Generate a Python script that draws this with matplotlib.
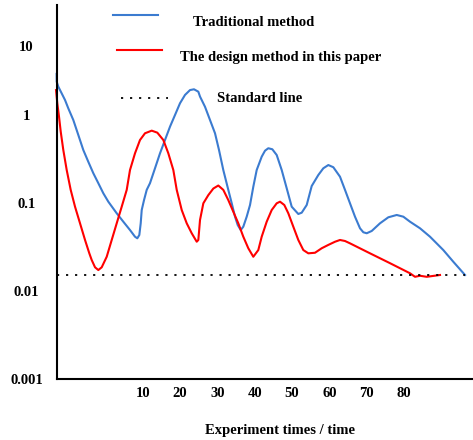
import matplotlib
matplotlib.use('Agg')
import matplotlib.pyplot as plt
from matplotlib.lines import Line2D

plt.rcParams['font.family'] = 'Liberation Serif'
plt.rcParams['font.weight'] = 'bold'

# values (error value vs experiment times, log scale)
trad_x = [-13.1, -13.08, -12.65, -11.74, -10.85, -9.97, -8.63, -7.29, -5.95, -4.61, -3.27,
          -1.93, -0.59, 0.75, 3.00, 4.77, 6.56, 7.90, 8.52, 9.06, 9.43, 9.70, 10.32, 11.04,
          11.92, 13.26, 14.60, 15.94, 17.28, 18.62, 19.96, 21.30, 22.64, 23.71, 24.87, 25.32,
          26.66, 28.00, 29.34, 30.41, 31.56, 32.90, 33.82, 34.70, 35.42, 36.23, 36.92, 37.83,
          38.72, 39.60, 40.51, 41.85, 42.74, 43.62, 44.69, 45.87, 47.21, 48.55, 49.89, 51.66,
          52.57, 53.91, 55.25, 57.02, 58.36, 59.70, 61.04, 62.83, 64.17, 65.51, 66.85, 68.19,
          69.08, 69.99, 71.33, 73.55, 75.78, 78.03, 79.80, 81.59, 84.27, 86.95, 90.51, 93.19,
          96.33]
trad_y = [2.93, 2.39, 2.10, 1.76, 1.48, 1.19, 0.877, 0.593, 0.400, 0.294, 0.218,
          0.168, 0.129, 0.1035, 0.0764, 0.0613, 0.0493, 0.0414, 0.0397, 0.0433, 0.0588, 0.0832,
          0.108, 0.141, 0.168, 0.248, 0.367, 0.520, 0.737, 1.00, 1.36, 1.69, 1.92, 1.96, 1.84,
          1.62, 1.24, 0.877, 0.620, 0.400, 0.237, 0.141, 0.0992, 0.0699, 0.0562, 0.0493,
          0.0538, 0.0699, 0.0949, 0.153, 0.237, 0.336, 0.393, 0.419, 0.408, 0.351, 0.237,
          0.147, 0.0908, 0.075, 0.0776, 0.0949, 0.156, 0.208, 0.248, 0.270, 0.255, 0.199,
          0.141, 0.0992, 0.0699, 0.0516, 0.0465, 0.0453, 0.0481, 0.0588, 0.0688, 0.0731,
          0.0699, 0.0613, 0.0516, 0.0414, 0.0292, 0.0215, 0.0152]

design_x = [-13.26, -12.92, -12.46, -12.00, -11.31, -10.40, -9.33, -8.17, -6.83, -5.49, -4.34,
            -3.70, -2.81, -1.93, -1.02, 0.32, 1.66, 3.00, 4.34, 5.68, 6.56, 7.90, 9.24, 10.58,
            12.38, 13.88, 15.49, 16.83, 18.17, 19.08, 20.42, 21.76, 23.10, 24.44, 24.87, 25.32,
            26.21, 27.55, 28.89, 30.22, 31.56, 32.90, 34.24, 35.58, 36.92, 38.26, 39.60, 40.94,
            41.85, 43.19, 44.53, 45.87, 46.76, 47.91, 48.98, 50.32, 51.66, 53.00, 54.34, 56.13,
            57.93, 59.70, 61.50, 62.83, 64.17, 65.51, 70.87, 76.23, 81.59, 82.93, 84.27, 86.07,
            89.63]
design_y = [1.92, 1.36, 0.957, 0.646, 0.400, 0.237, 0.141, 0.0908, 0.0588, 0.038, 0.0268,
            0.0225, 0.0186, 0.0173, 0.0186, 0.0245, 0.038, 0.0588, 0.0908, 0.141, 0.237, 0.367,
            0.520, 0.620, 0.664, 0.630, 0.520, 0.367, 0.237, 0.141, 0.0832, 0.0588, 0.0453,
            0.0363, 0.038, 0.0641, 0.0992, 0.123, 0.146, 0.158, 0.141, 0.108, 0.0796, 0.0588,
            0.0414, 0.0306, 0.0245, 0.0292, 0.0414, 0.0613, 0.0832, 0.0992, 0.1035, 0.0949,
            0.0764, 0.0538, 0.038, 0.0292, 0.0268, 0.0272, 0.0306, 0.0334, 0.0363, 0.038,
            0.037, 0.0348, 0.0268, 0.0207, 0.0159, 0.0145, 0.0149, 0.0145, 0.0152]

standard_level = 0.0153
standard_x = [-13.0, 96.3]

x_ticks = [10, 20, 30, 40, 50, 60, 70, 80]
# the '10' label sits lower than a true decade in the original
y_ticks = [0.001, 0.01, 0.1, 1, 6.1]
y_tick_labels = ['0.001', '0.01', '0.1', '1', '10']

blue = '#3b7bd0'
red = '#ff0000'
fs = 10.5

fig = plt.figure(figsize=(4.73, 4.4), dpi=100)
ax = fig.add_axes([57 / 473, 1 - 379 / 440, 415 / 473, 374 / 440])

ax.plot(trad_x, trad_y, color=blue, lw=1.5, clip_on=False)
ax.plot(design_x, design_y, color=red, lw=1.5, clip_on=False)
ax.plot(standard_x, [standard_level, standard_level], color='black', lw=1.3,
        linestyle=(0, (1.2, 3.8)), clip_on=False)

ax.set_yscale('log')
ax.set_xlim(-13.0, 98.2)
ax.set_ylim(0.001, 10 ** 1.25)
ax.minorticks_off()

ax.set_xticks(x_ticks)
ax.set_xticklabels([str(t) for t in x_ticks])
ax.set_yticks(y_ticks)
ax.set_yticklabels(y_tick_labels)
ax.tick_params(axis='both', length=0, labelsize=fs)
ax.tick_params(axis='x', pad=6)
ax.tick_params(axis='y', pad=22)
for lab in ax.get_yticklabels():
    lab.set_horizontalalignment('center')

for s in ['top', 'right']:
    ax.spines[s].set_visible(False)
for s in ['left', 'bottom']:
    ax.spines[s].set_linewidth(1.5)
    ax.spines[s].set_color('black')

# hand-placed key like in the original
fig.add_artist(Line2D([113 / 473, 158 / 473], [1 - 15 / 440, 1 - 15 / 440], color=blue, lw=1.5))
fig.add_artist(Line2D([117 / 473, 162 / 473], [1 - 50 / 440, 1 - 50 / 440], color=red, lw=1.5))
fig.add_artist(Line2D([121 / 473, 168 / 473], [1 - 98 / 440, 1 - 98 / 440], color='black',
                      lw=1.3, linestyle=(0, (1.2, 3.8))))
fig.text(193 / 473, 1 - 22 / 440, 'Traditional method', fontsize=fs, va='center')
fig.text(180 / 473, 1 - 57 / 440, 'The design method in this paper', fontsize=fs, va='center')
fig.text(217 / 473, 1 - 98 / 440, 'Standard line', fontsize=fs, va='center')

fig.text(280 / 473, 1 - 430 / 440, 'Experiment times / time', fontsize=fs, ha='center', va='center')

fig.savefig('out.png', dpi=100)
